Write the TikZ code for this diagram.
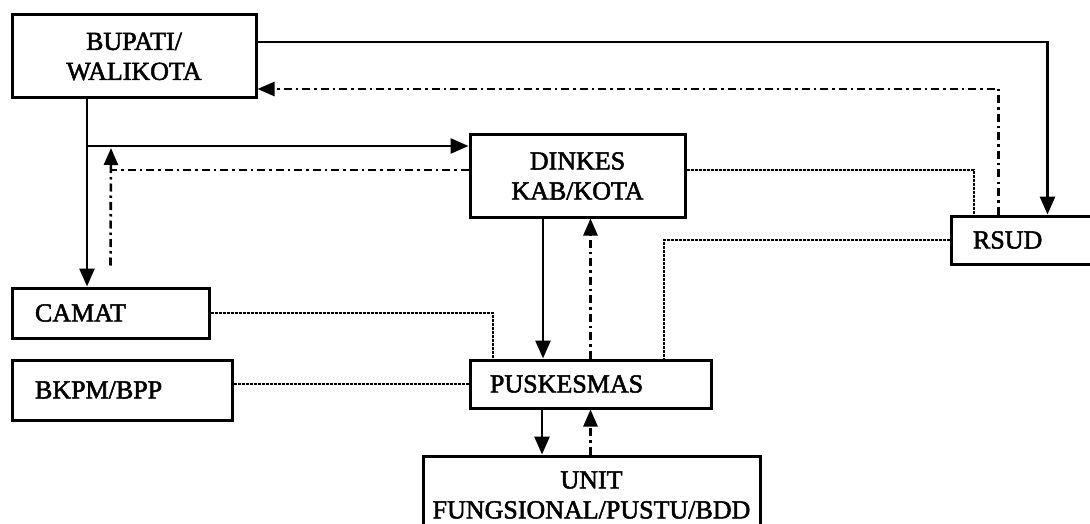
\documentclass[tikz,border=0pt]{standalone}
\usepackage{fontspec}
\setmainfont{Liberation Serif}
\newfontfamily\heavyfont[FakeBold=2]{Liberation Serif}
\usetikzlibrary{arrows.meta}
\tikzset{
  box/.style={draw, line width=3pt, rectangle, inner sep=0pt, font=\heavyfont\fontsize{26}{30}\selectfont},
  leftbox/.style={box, align=left, inner xsep=22pt},
  solidarrow/.style={line width=2.8pt, -{Triangle[length=18pt,width=15pt]}},
  dashdotline/.style={line width=2.6pt, dash pattern=on 8pt off 4pt on 2.5pt off 4pt},
  dashdotarrow/.style={dashdotline, -{Triangle[length=17pt,width=14pt]}},
  dottedline/.style={line width=2pt, dash pattern=on 3pt off 1pt}
}
\begin{document}
\begin{tikzpicture}[x=1pt, y=-1pt]
\clip (0,0) rectangle (1090,524);
\fill[white] (0,0) rectangle (1090,524);

% boxes
\node[box, minimum width=244pt, minimum height=83pt, align=center] (bup) at (134,56.5) {BUPATI/\\WALIKOTA};
\node[box, minimum width=215pt, minimum height=82pt, align=center] (dinkes) at (577.5,176) {DINKES\\KAB/KOTA};
\node[leftbox, text width=105pt, minimum height=48pt] (rsud) at (1025.5,240) {RSUD};
\node[leftbox, text width=151pt, minimum height=50pt, inner xsep=23pt] (camat) at (110.5,313) {CAMAT};
\node[leftbox, text width=174pt, minimum height=60pt, inner xsep=23pt] (bkpm) at (122,390) {BKPM/BPP};
\node[leftbox, text width=201pt, minimum height=48pt, inner xsep=20pt] (pusk) at (590.5,384) {PUSKESMAS};
\node[box, minimum width=337pt, minimum height=78pt, align=center] (unit) at (591.5,495) {UNIT\\FUNGSIONAL/PUSTU/BDD};

% junction coordinates
\coordinate (j1) at (87,146);
\coordinate (j2) at (111,148);
\coordinate (j3) at (111,170);

% Bupati -> RSUD
\draw[solidarrow] ([yshift=14.5pt]bup.east) -| ([xshift=98pt]rsud.north west);
% RSUD -> Bupati
\draw[dashdotarrow] ([xshift=49pt]rsud.north west) |- ([yshift=-32.5pt]bup.east);
% Bupati -> Camat
\draw[solidarrow] ([xshift=-47pt]bup.south) -- ([xshift=-23.5pt]camat.north);
% branch -> Dinkes
\draw[solidarrow] (j1) -- ([yshift=30pt]dinkes.west);
% Camat -> up
\draw[dashdotarrow] ([yshift=21pt]camat.north) -- (j2);
% Dinkes -> left
\draw[dashdotline] ([yshift=6pt]dinkes.west) -- (j3);
% Dinkes -> Puskesmas
\draw[solidarrow] ([xshift=-34.5pt]dinkes.south) -- ([xshift=-47.5pt]pusk.north);
% Puskesmas -> Dinkes
\draw[dashdotarrow] (pusk.north) -- ([xshift=13pt]dinkes.south);
% Dinkes -- RSUD
\draw[dottedline] ([yshift=6pt]dinkes.east) -| ([xshift=24pt]rsud.north west);
% RSUD -- Puskesmas
\draw[dottedline] (rsud.west) -| ([xshift=-49pt]pusk.north east);
% Camat -- Puskesmas
\draw[dottedline] (camat.east) -| ([xshift=24pt]pusk.north west);
% BKPM -- Puskesmas
\draw[dottedline] (pusk.west -| bkpm.east) -- (pusk.west);
% Puskesmas -> Unit
\draw[solidarrow] ([xshift=-48.5pt]pusk.south) -- ([xshift=-49.5pt]unit.north);
% Unit -> Puskesmas
\draw[dashdotarrow] ([xshift=-1pt]unit.north) -- (pusk.south);
\end{tikzpicture}
\end{document}
